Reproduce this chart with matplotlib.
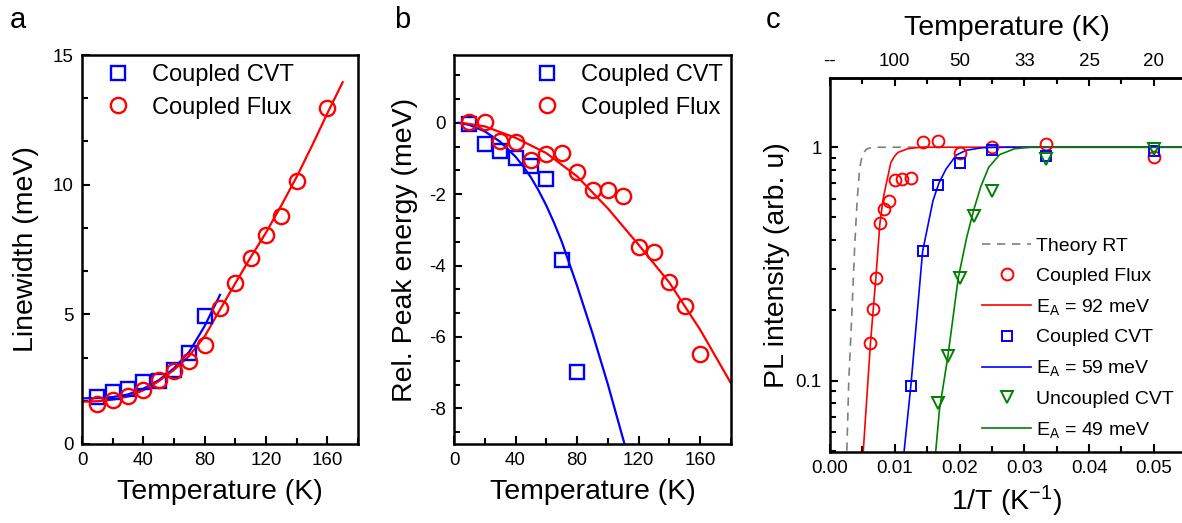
import matplotlib
import matplotlib.pyplot as plt
import numpy as np
from matplotlib.ticker import MultipleLocator, FixedLocator, FixedFormatter, NullFormatter

matplotlib.use("Agg")

plt.rcParams["font.family"] = ["Liberation Sans", "DejaVu Sans"]
plt.rcParams["mathtext.default"] = "regular"
plt.rcParams["axes.unicode_minus"] = False

RED = "#ff0000"
BLUE = "#0000ff"
GREEN = "#008000"
GRAY = "#808080"

# ---- panel a: linewidth vs temperature ----
a_cvt_temp = [10, 20, 30, 40, 50, 60, 70, 80]
a_cvt_width = [1.83, 2.02, 2.12, 2.38, 2.42, 2.84, 3.52, 4.92]
a_flux_temp = [10, 20, 30, 40, 50, 60, 70, 80, 90, 100, 110, 120, 130, 140, 160]
a_flux_width = [1.54, 1.70, 1.87, 2.07, 2.45, 2.80, 3.19, 3.80, 5.25, 6.20, 7.16,
                8.06, 8.80, 10.15, 12.97]
# fitted curves
a_cvt_fit_temp = [0, 10, 20, 30, 40, 50, 60, 70, 80, 90]
a_cvt_fit_width = [1.76, 1.77, 1.81, 1.91, 2.13, 2.46, 2.92, 3.56, 4.55, 5.75]
a_flux_fit_temp = [0, 10, 20, 30, 40, 50, 60, 70, 80, 90, 100, 110, 120, 130, 140,
                   150, 160, 170]
a_flux_fit_width = [1.63, 1.65, 1.71, 1.83, 2.07, 2.42, 2.86, 3.40, 4.15, 5.18, 6.20,
                    7.20, 8.15, 9.20, 10.30, 11.50, 12.75, 13.95]

# ---- panel b: relative peak energy ----
b_cvt_temp = [10, 20, 30, 40, 50, 60, 70, 80]
b_cvt_shift = [-0.02, -0.60, -0.79, -0.99, -1.20, -1.58, -3.84, -6.98]
b_flux_temp = [10, 20, 30, 40, 50, 60, 70, 80, 90, 100, 110, 120, 130, 140, 150, 160]
b_flux_shift = [0.02, 0.01, -0.50, -0.53, -1.05, -0.87, -0.85, -1.39, -1.89, -1.88,
                -2.05, -3.47, -3.61, -4.45, -5.13, -6.49]
b_cvt_fit_temp = [3, 10, 20, 30, 40, 45, 50, 55, 60, 65, 70, 80, 90, 100, 110.8]
b_cvt_fit_shift = [0.0, -0.06, -0.24, -0.53, -0.95, -1.22, -1.53, -1.90, -2.32,
                   -2.80, -3.33, -4.57, -5.90, -7.33, -9.0]
b_flux_fit_temp = [5, 20, 40, 60, 80, 100, 120, 140, 160, 180]
b_flux_fit_shift = [0.0, -0.10, -0.42, -0.85, -1.50, -2.40, -3.42, -4.48, -5.80, -7.30]

# ---- panel c: PL intensity vs 1/T ----
c_flux_temp = [160, 150, 140, 130, 120, 110, 100, 90, 80, 70, 60, 50, 40, 30, 20]
c_flux_int = [0.145, 0.203, 0.274, 0.473, 0.544, 0.588, 0.725, 0.73, 0.74, 1.05,
              1.06, 0.945, 1.0, 1.035, 0.906]
c_cvt_temp = [80, 70, 60, 50, 40, 30, 20]
c_cvt_int = [0.095, 0.358, 0.686, 0.857, 0.977, 0.915, 0.96]
c_unc_temp = [60, 55, 50, 45, 40, 30, 20]
c_unc_int = [0.080, 0.127, 0.275, 0.509, 0.648, 0.891, 0.984]

theory_inv_t = [0.0026, 0.0029, 0.0034, 0.0038, 0.0042, 0.0046, 0.0050, 0.0056,
                0.0065, 0.015]
theory_int = [0.05, 0.10, 0.20, 0.37, 0.60, 0.82, 0.93, 0.98, 1.0, 1.0]
flux_fit_inv_t = [0.00514, 0.00625, 0.0071, 0.0077, 0.0082, 0.0087, 0.0094, 0.0099,
                  0.0105, 0.012, 0.014, 0.0545]
flux_fit_int = [0.05, 0.145, 0.28, 0.47, 0.60, 0.70, 0.86, 0.91, 0.95, 0.985, 1.0, 1.0]
cvt_fit_inv_t = [0.01145, 0.0125, 0.0143, 0.0159, 0.0168, 0.0179, 0.0195, 0.021,
                 0.0235, 0.026, 0.0545]
cvt_fit_int = [0.05, 0.096, 0.358, 0.59, 0.70, 0.805, 0.925, 0.97, 0.995, 1.0, 1.0]
unc_fit_inv_t = [0.01633, 0.0169, 0.0182, 0.0198, 0.0211, 0.0222, 0.0233, 0.0245,
                 0.0262, 0.0285, 0.031, 0.0545]
unc_fit_int = [0.05, 0.075, 0.127, 0.275, 0.41, 0.54, 0.68, 0.82, 0.93, 0.985, 1.0, 1.0]

top_tick_pos = [0.0, 0.01, 0.02, 0.03, 0.04, 0.05]
top_tick_labels = ["--", "100", "50", "33", "25", "20"]

W, H = 1182, 523
fig = plt.figure(figsize=(W / 100, H / 100), dpi=100)


def add_axes_px(left, top, right, bottom):
    return fig.add_axes([left / W, 1 - bottom / H, (right - left) / W, (bottom - top) / H])


def style_axes(ax):
    for sp in ax.spines.values():
        sp.set_linewidth(1.8)
    ax.tick_params(which="both", direction="in", top=False, right=False,
                   labelsize=13.5, width=1.5, pad=6)
    ax.tick_params(which="major", length=6)
    ax.tick_params(which="minor", length=4)


# ---- a ----
ax_a = add_axes_px(82, 55, 358, 444)
style_axes(ax_a)
ax_a.plot(a_cvt_fit_temp, a_cvt_fit_width, color=BLUE, lw=1.6, zorder=2)
ax_a.plot(a_flux_fit_temp, a_flux_fit_width, color=RED, lw=1.6, zorder=2)
ax_a.plot(a_cvt_temp, a_cvt_width, ls="none", marker="s", ms=10, mfc="none",
          mec=BLUE, mew=1.7, label="Coupled CVT", zorder=3)
ax_a.plot(a_flux_temp, a_flux_width, ls="none", marker="o", ms=11, mfc="none",
          mec=RED, mew=1.7, label="Coupled Flux", zorder=3)
ax_a.set_xlim(0, 180)
ax_a.set_ylim(0, 15)
ax_a.xaxis.set_major_locator(MultipleLocator(40))
ax_a.xaxis.set_minor_locator(MultipleLocator(20))
ax_a.yaxis.set_major_locator(MultipleLocator(5))
ax_a.yaxis.set_minor_locator(MultipleLocator(5 / 3))
ax_a.set_xlabel("Temperature (K)", fontsize=20.5, labelpad=7)
ax_a.set_ylabel("Linewidth (meV)", fontsize=20.5, labelpad=10)
ax_a.legend(loc="upper left", bbox_to_anchor=(0.045, 0.977), frameon=False, fontsize=17,
            handlelength=2.0, handletextpad=0.45, labelspacing=0.45,
            borderaxespad=0.0, borderpad=0.0)
fig.text(18 / W, 1 - 20 / H, "a", fontsize=21, ha="center", va="center")

# ---- b ----
ax_b = add_axes_px(454, 55, 731, 444)
style_axes(ax_b)
ax_b.plot(b_cvt_fit_temp, b_cvt_fit_shift, color=BLUE, lw=1.6, zorder=2)
ax_b.plot(b_flux_fit_temp, b_flux_fit_shift, color=RED, lw=1.6, zorder=2)
ax_b.plot(b_cvt_temp, b_cvt_shift, ls="none", marker="s", ms=10, mfc="none",
          mec=BLUE, mew=1.7, label="Coupled CVT", zorder=3)
ax_b.plot(b_flux_temp, b_flux_shift, ls="none", marker="o", ms=11, mfc="none",
          mec=RED, mew=1.7, label="Coupled Flux", zorder=3)
ax_b.set_xlim(0, 180)
ax_b.set_ylim(-9, 1.9)
ax_b.xaxis.set_major_locator(MultipleLocator(40))
ax_b.xaxis.set_minor_locator(MultipleLocator(20))
ax_b.yaxis.set_major_locator(MultipleLocator(2))
ax_b.yaxis.set_minor_locator(MultipleLocator(2 / 3))
ax_b.set_xlabel("Temperature (K)", fontsize=20.5, labelpad=7)
ax_b.set_ylabel("Rel. Peak energy (meV)", fontsize=20.5, labelpad=8)
ax_b.legend(loc="upper left", bbox_to_anchor=(0.251, 0.977), frameon=False, fontsize=17,
            handlelength=2.0, handletextpad=0.45, labelspacing=0.45,
            borderaxespad=0.0, borderpad=0.0)
fig.text(402 / W, 1 - 20 / H, "b", fontsize=21, ha="center", va="center")

# ---- c ----
ax_c = add_axes_px(830, 78, 1183, 452)
style_axes(ax_c)
ax_c.spines["right"].set_visible(False)
ax_c.set_yscale("log")
ax_c.plot(theory_inv_t, theory_int, color=GRAY, lw=1.2, ls=(0, (5, 4)),
          label="Theory RT", zorder=1)
ax_c.plot(1 / np.array(c_flux_temp), c_flux_int, ls="none", marker="o", ms=8.5,
          mfc="none", mec=RED, mew=1.4, label="Coupled Flux", zorder=3)
ax_c.plot(flux_fit_inv_t, flux_fit_int, color=RED, lw=1.2, label="E$_A$ = 92 meV",
          zorder=2)
ax_c.plot(1 / np.array(c_cvt_temp), c_cvt_int, ls="none", marker="s", ms=6.5,
          mfc="none", mec=BLUE, mew=1.4, label="Coupled CVT", zorder=3)
ax_c.plot(cvt_fit_inv_t, cvt_fit_int, color=BLUE, lw=1.2, label="E$_A$ = 59 meV",
          zorder=2)
ax_c.plot(1 / np.array(c_unc_temp), c_unc_int, ls="none", marker="v", ms=8.5,
          mfc="none", mec=GREEN, mew=1.4, label="Uncoupled CVT", zorder=3)
ax_c.plot(unc_fit_inv_t, unc_fit_int, color=GREEN, lw=1.2, label="E$_A$ = 49 meV",
          zorder=2)
ax_c.set_xlim(0, 0.0545)
ax_c.set_ylim(0.0494, 1.98)
ax_c.xaxis.set_major_locator(MultipleLocator(0.01))
ax_c.xaxis.set_minor_locator(MultipleLocator(0.005))
ax_c.xaxis.set_major_formatter(matplotlib.ticker.FormatStrFormatter("%.2f"))
ax_c.yaxis.set_major_locator(FixedLocator([0.1, 1]))
ax_c.yaxis.set_major_formatter(FixedFormatter(["0.1", "1"]))
ax_c.yaxis.set_minor_locator(FixedLocator([0.05, 0.06, 0.07, 0.08, 0.09, 0.2, 0.3,
                                           0.4, 0.5, 0.6, 0.7, 0.8, 0.9]))
ax_c.yaxis.set_minor_formatter(NullFormatter())
ax_c.set_xlabel("1/T (K$^{-1}$)", fontsize=20.5, labelpad=5)
ax_c.set_ylabel("PL intensity (arb. u)", fontsize=20.5, labelpad=4)
ax_c.legend(loc="upper left", bbox_to_anchor=(0.4306, 0.574), frameon=False,
            fontsize=14, handlelength=2.53, handletextpad=0.26, labelspacing=0.62,
            borderaxespad=0.0, borderpad=0.0)

top = ax_c.secondary_xaxis("top")
top.set_xticks(top_tick_pos)
top.set_xticklabels(top_tick_labels)
top.xaxis.set_minor_locator(MultipleLocator(0.005))
top.tick_params(which="both", direction="in", labelsize=13.5, width=1.5, pad=6)
top.tick_params(which="major", length=6)
top.tick_params(which="minor", length=4)
top.spines["top"].set_linewidth(1.8)
top.set_xlabel("Temperature (K)", fontsize=20.5, labelpad=13)
fig.text(773 / W, 1 - 20 / H, "c", fontsize=21, ha="center", va="center")

fig.savefig("out.png", dpi=100)
